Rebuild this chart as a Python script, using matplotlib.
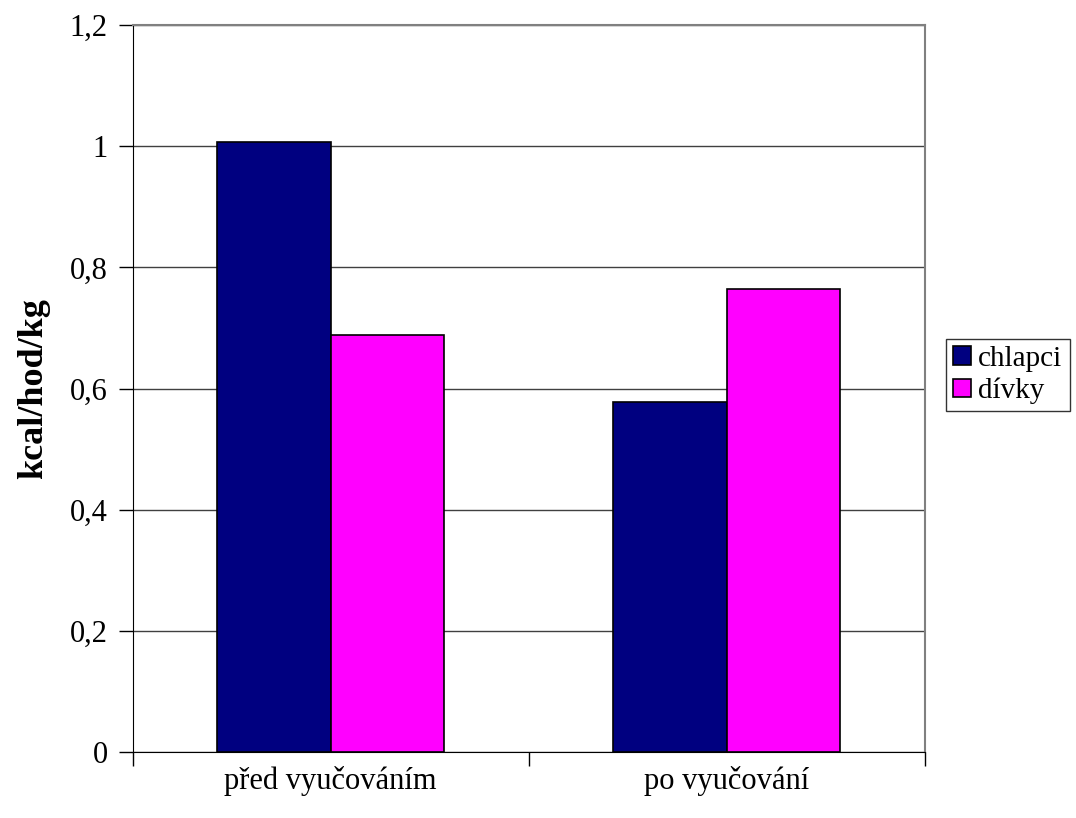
import numpy as np
import matplotlib.pyplot as plt

# energy expenditure per hour and kg, boys vs girls
categories = ['před vyučováním', 'po vyučování']
chlapci = [1.007, 0.578]
divky = [0.689, 0.764]
series_names = ['chlapci', 'dívky']
yticks = [0, 0.2, 0.4, 0.6, 0.8, 1.0, 1.2]
ytick_labels = ['0', '0,2', '0,4', '0,6', '0,8', '1', '1,2']

plt.rcParams['font.family'] = ['Liberation Serif', 'DejaVu Serif']

fig = plt.figure(figsize=(10.76, 8.18), dpi=100)
ax = fig.add_axes([132.5 / 1076, 66 / 818, 792 / 1076, 727 / 818])

x = np.arange(len(categories)) + 0.5
w = 1 / 3.5
ax.bar(x - w / 2, chlapci, w, color='#000080', edgecolor='black', linewidth=1.2,
       label=series_names[0], zorder=3)
ax.bar(x + w / 2, divky, w, color='#FF00FF', edgecolor='black', linewidth=1.2,
       label=series_names[1], zorder=3)

ax.set_xlim(0, len(categories))
ax.set_ylim(0, 1.2)
ax.set_yticks(yticks)
ax.set_yticklabels(ytick_labels, fontsize=22)
ax.yaxis.grid(True, color='#404040', linewidth=1, zorder=0)

# category boundaries carry the tick marks, labels sit in the middle
ax.set_xticks(np.arange(len(categories) + 1))
ax.set_xticklabels([])
ax.set_xticks(x, minor=True)
ax.set_xticklabels(categories, minor=True, fontsize=22)
ax.tick_params(axis='x', which='minor', length=0, pad=10)
ax.tick_params(axis='x', which='major', length=10, width=1, direction='out')
ax.tick_params(axis='y', length=10, width=1, direction='out', pad=8)

for side in ['top', 'right']:
    ax.spines[side].set_color('#808080')
    ax.spines[side].set_linewidth(1.5)
ax.spines['left'].set_color('black')
ax.spines['bottom'].set_color('black')

ax.set_ylabel('kcal/hod/kg', fontsize=26, fontweight='bold', labelpad=14)

leg = ax.legend(loc='center left', bbox_to_anchor=(946 / 1076, 1 - 375 / 818),
                bbox_transform=fig.transFigure, fontsize=21, frameon=True,
                fancybox=False, edgecolor='black', handlelength=0.6,
                handleheight=0.6, handletextpad=0.25, borderpad=0.25,
                labelspacing=0.2, borderaxespad=0)
leg.get_frame().set_linewidth(1)

fig.savefig('out.png', dpi=100)
